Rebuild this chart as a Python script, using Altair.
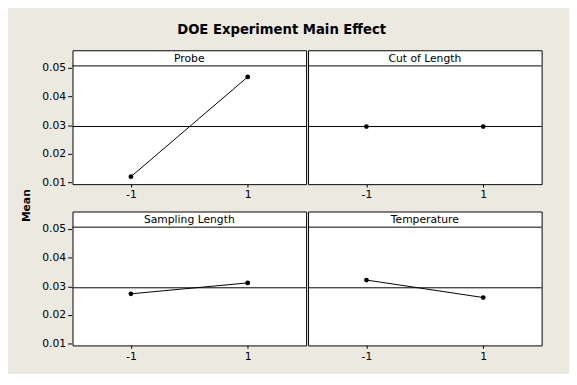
import altair as alt
import pandas as pd

# ---- data ----
factors = ["Probe", "Cut of Length", "Sampling Length", "Temperature"]
levels = [-1, 1]
mean_low = [0.0120, 0.0295, 0.0274, 0.0322]
mean_high = [0.0468, 0.0295, 0.0312, 0.0261]
grand_mean = 0.0295
y_ticks = [0.01, 0.02, 0.03, 0.04, 0.05]
x_ticks = [-1, 1]

rows = []
for i, f in enumerate(factors):
    for lv, m in zip(levels, [mean_low[i], mean_high[i]]):
        rows.append({"factor": f, "level": lv, "mean": m, "r": i // 2, "c": i % 2})
df = pd.DataFrame(rows)

FONT = "DejaVu Sans"
W, H = 239, 137
BG = "#ECE9E1"

x_axis = alt.Axis(values=x_ticks, labelExpr="toString(datum.value)", title=None,
                  domain=False, grid=False, tickSize=3, labelPadding=2)
y_axis = alt.Axis(values=y_ticks, format=".2f", title=None, domain=False, grid=False,
                  tickSize=4, labelPadding=2, labelOverlap=False)
x_scale = alt.Scale(domain=[-2, 2], nice=False, zero=False)
y_scale = alt.Scale(domain=[0.0094, 0.0561], nice=False, zero=False)

x_enc = alt.X("level:Q", scale=x_scale, axis=x_axis)
y_enc = alt.Y("mean:Q", scale=y_scale, axis=y_axis)

base = alt.Chart()
one = base.transform_filter(alt.datum.level == -1)

ref = one.mark_rule(color="black", strokeWidth=1).encode(
    y=alt.YDatum(grand_mean, scale=y_scale, axis=y_axis))
strip = one.mark_rule(color="black", strokeWidth=1).encode(
    y=alt.value(16), x=alt.value(0), x2=alt.value(W))
label = one.mark_text(font=FONT, fontSize=11, color="black", baseline="middle").encode(
    text="factor:N", x=alt.value(W / 2), y=alt.value(8.5))
line = base.mark_line(color="black", strokeWidth=1).encode(x=x_enc, y=y_enc)
pts = base.mark_point(filled=True, color="black", size=24, opacity=1).encode(
    x=x_enc, y=y_enc)

chart = (
    alt.layer(ref, strip, line, pts, label, data=df)
    .properties(width=W, height=H)
    .facet(
        row=alt.Row("r:O", header=alt.Header(labels=False, title="Mean", titleFont=FONT,
                                              titleFontSize=11, titleFontWeight="bold",
                                              titleColor="black", titlePadding=0)),
        column=alt.Column("c:O", header=alt.Header(labels=False, title=None)),
        spacing={"row": 10, "column": 0},
    )
    .resolve_axis(x="independent")
    .properties(
        title=alt.TitleParams("DOE Experiment Main Effect", font=FONT, fontSize=13.5,
                              fontWeight="bold", anchor="middle", offset=14, color="black"),
        padding={"left": 12, "top": 11, "right": 27, "bottom": 8},
        background=BG,
    )
    .configure_view(stroke="black", strokeWidth=1, fill="white")
    .configure_axis(labelFont=FONT, labelFontSize=11, labelColor="black",
                    tickColor="black", tickWidth=1)
)

chart.save("out.html", embed_options={"renderer": "svg", "actions": False})
